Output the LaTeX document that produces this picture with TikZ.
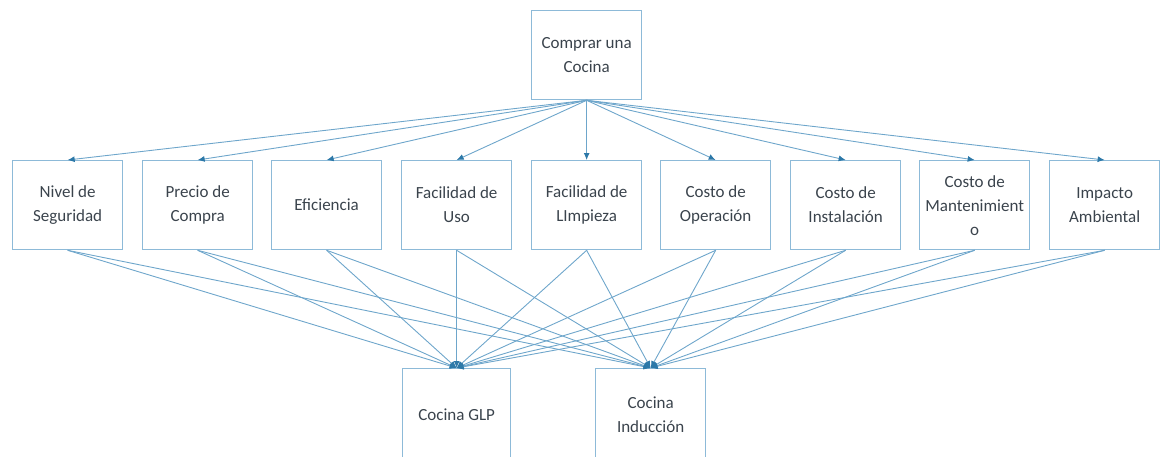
\documentclass[tikz,border=0pt]{standalone}
\usepackage{fontspec}
\setmainfont{Carlito}
\usetikzlibrary{arrows.meta}
\definecolor{boxc}{HTML}{8DBAD8}
\definecolor{linec}{HTML}{6EA6CB}
\definecolor{tipc}{HTML}{2C78A8}
\definecolor{txtc}{HTML}{3A434C}
\tikzset{
  crit/.style={draw=boxc, line width=1.3pt, minimum width=110pt, minimum height=89pt, inner sep=2pt, align=center, text=txtc, font=\fontsize{17}{24}\selectfont, anchor=north west},
  conn/.style={draw=linec, line width=0.9pt, -{Latex[length=7pt,width=6pt,color=tipc]}},
}
\begin{document}
\begin{tikzpicture}[x=1pt,y=-1pt]
\useasboundingbox (0,0) rectangle (1160,456);
\clip (0,0) rectangle (1160,456);
\node[crit] (top) at (531,10) {Comprar una\\Cocina};
\node[crit] (m1) at (12,160) {Nivel de\\Seguridad};
\node[crit] (m2) at (142,160) {Precio de\\Compra};
\node[crit] (m3) at (271,160) {Eficiencia};
\node[crit] (m4) at (401,160) {Facilidad de\\Uso};
\node[crit] (m5) at (531,160) {Facilidad de\\LImpieza};
\node[crit] (m6) at (660,160) {Costo de\\Operación};
\node[crit] (m7) at (790,160) {Costo de\\Instalación};
\node[crit] (m8) at (919,160) {Costo de\\Mantenimient\\o};
\node[crit] (m9) at (1049,160) {Impacto\\Ambiental};
\node[crit, minimum width=108pt, minimum height=92pt] (b1) at (402,368) {Cocina GLP};
\node[crit, minimum height=92pt] (b2) at (595,368) {Cocina\\Inducción};
\foreach \i in {1,...,9} {
  \draw[conn] (top.south) -- (m\i.north);
  \draw[conn] (m\i.south) -- (b1.north);
  \draw[conn] (m\i.south) -- (b2.north);
}
\end{tikzpicture}
\end{document}
